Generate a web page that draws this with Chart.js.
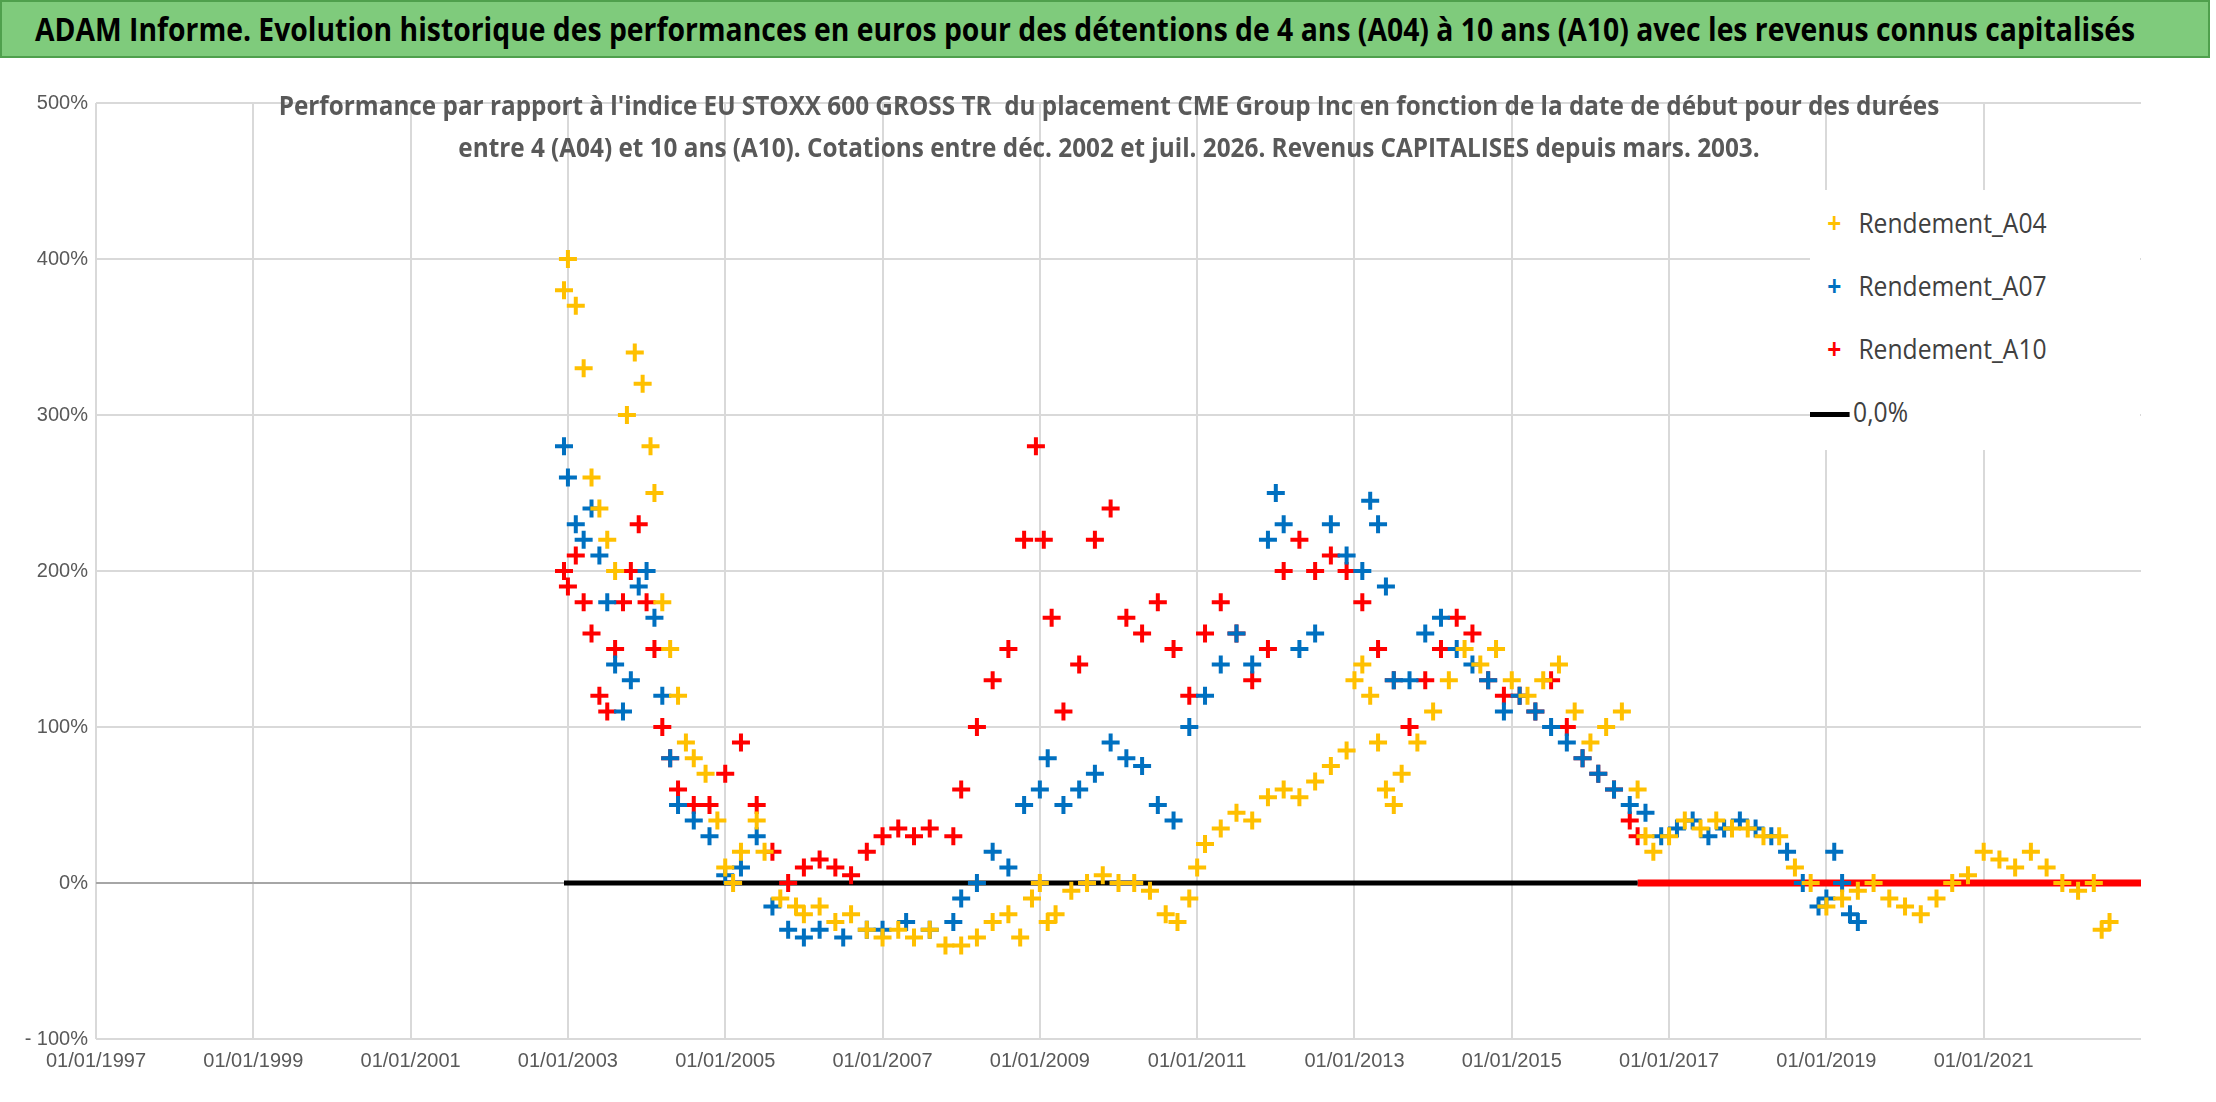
<!DOCTYPE html>
<html><head><meta charset="utf-8">
<script src="https://cdn.jsdelivr.net/npm/chart.js@4.4.0/dist/chart.umd.min.js"></script>
<style>
body{margin:0;background:#fff;font-family:"Open Sans",sans-serif;}
#wrap{position:relative;width:2216px;height:1102px;overflow:hidden;}
#title{position:absolute;left:0;top:0;width:2206px;height:54px;background:#7fcb7c;border:2px solid #4fa04d;
 font:bold 32px "Open Sans",sans-serif;color:#000;line-height:54px;white-space:nowrap;}
#title span{position:absolute;left:1083px;top:0;transform:translateX(-50%) scaleX(0.885);}
#sub{position:absolute;left:0;top:84px;width:2216px;height:90px;font:bold 27px "Open Sans",sans-serif;color:#595959;line-height:42px;white-space:nowrap;}
#sub span{position:absolute;left:1109px;transform:translateX(-50%) scaleX(0.9);}
#leg{position:absolute;left:1810px;top:190px;width:330px;height:260px;background:#fff;font:28px "Open Sans",sans-serif;color:#404040;}
#leg div{position:absolute;left:0;height:40px;line-height:40px;transform:scaleX(0.88);transform-origin:left;white-space:nowrap;}
#leg span{display:inline-block;width:55px;text-align:center;font-weight:bold;}
canvas{position:absolute;left:0;top:0;}
</style></head><body>
<div id="wrap">
<canvas id="chart" width="2216" height="1102"></canvas>
<div id="title"><span>ADAM Informe. Evolution historique des performances en euros pour des détentions de 4 ans (A04) à 10 ans (A10) avec les revenus connus capitalisés</span></div>
<div id="sub"><span style="top:0">Performance par rapport à l'indice EU STOXX 600 GROSS TR&nbsp; du placement CME Group Inc en fonction de la date de début pour des durées</span><span style="top:42px">entre 4 (A04) et 10 ans (A10). Cotations entre déc. 2002 et juil. 2026. Revenus CAPITALISES depuis mars. 2003.</span></div>
<div id="leg">
 <div style="top:12px"><span style="color:#ffc000">+</span>Rendement_A04</div>
 <div style="top:75px"><span style="color:#0070c0">+</span>Rendement_A07</div>
 <div style="top:138px"><span style="color:#ff0000">+</span>Rendement_A10</div>
 <div style="top:201px"><span style="display:inline-block;width:45px;height:5px;background:#000;vertical-align:middle;margin-right:4px"></span>0,0%</div>
</div>
</div>
<script>
// years as decimal, values in %
const a04Years = [2002.95,2003.0,2003.1,2003.2,2003.3,2003.4,2003.5,2003.6,2003.75,2003.85,2003.95,2004.05,2004.1,2004.2,2004.3,2004.4,2004.5,2004.6,2004.75,2004.9,2005.0,2005.1,2005.2,2005.4,2005.5,2005.7,2005.9,2006.0,2006.2,2006.4,2006.6,2006.8,2007.0,2007.2,2007.4,2007.6,2007.8,2008.0,2008.2,2008.4,2008.6,2008.75,2008.9,2009.0,2009.1,2009.2,2009.4,2009.6,2009.8,2010.0,2010.2,2010.4,2010.6,2010.75,2010.9,2011.0,2011.1,2011.3,2011.5,2011.7,2011.9,2012.1,2012.3,2012.5,2012.7,2012.9,2013.0,2013.1,2013.2,2013.3,2013.4,2013.5,2013.6,2013.8,2014.0,2014.2,2014.4,2014.6,2014.8,2015.0,2015.2,2015.4,2015.6,2015.8,2016.0,2016.2,2016.4,2016.6,2016.7,2016.8,2017.0,2017.2,2017.4,2017.6,2017.8,2018.0,2018.2,2018.4,2018.6,2018.8,2019.0,2019.2,2019.4,2019.6,2019.8,2020.0,2020.2,2020.4,2020.6,2020.8,2021.0,2021.2,2021.4,2021.6,2021.8,2022.0,2022.2,2022.4,2022.5,2022.6];
const a04Values = [380,400,370,330,260,240,220,200,300,340,320,280,250,180,150,120,90,80,70,40,10,0,20,40,20,-10,-15,-20,-15,-25,-20,-30,-35,-30,-35,-30,-40,-40,-35,-25,-20,-35,-10,0,-25,-20,-5,0,5,0,0,-5,-20,-25,-10,10,25,35,45,40,55,60,55,65,75,85,130,140,120,90,60,50,70,90,110,130,150,140,150,130,120,130,140,110,90,100,110,60,30,20,30,40,35,40,35,35,30,30,10,0,-15,-10,-5,0,-10,-15,-20,-10,0,5,20,15,10,20,10,0,-5,0,-30,-25];
const a07Years = [2002.95,2003.0,2003.1,2003.2,2003.3,2003.4,2003.5,2003.6,2003.7,2003.8,2003.9,2004.0,2004.1,2004.2,2004.3,2004.4,2004.6,2004.8,2005.0,2005.2,2005.4,2005.6,2005.8,2006.0,2006.2,2006.5,2006.8,2007.0,2007.3,2007.6,2007.9,2008.0,2008.2,2008.4,2008.6,2008.8,2009.0,2009.1,2009.3,2009.5,2009.7,2009.9,2010.1,2010.3,2010.5,2010.7,2010.9,2011.1,2011.3,2011.5,2011.7,2011.9,2012.0,2012.1,2012.3,2012.5,2012.7,2012.9,2013.1,2013.2,2013.3,2013.4,2013.5,2013.7,2013.9,2014.1,2014.3,2014.5,2014.7,2014.9,2015.1,2015.3,2015.5,2015.7,2015.9,2016.1,2016.3,2016.5,2016.7,2016.9,2017.1,2017.3,2017.5,2017.7,2017.9,2018.1,2018.3,2018.5,2018.7,2018.9,2019.0,2019.1,2019.2,2019.3,2019.4];
const a07Values = [280,260,230,220,240,210,180,140,110,130,190,200,170,120,80,50,40,30,5,10,30,-15,-30,-35,-30,-35,-30,-30,-25,-30,-25,-10,0,20,10,50,60,80,50,60,70,90,80,75,50,40,100,120,140,160,140,220,250,230,150,160,230,210,200,245,230,190,130,130,160,170,150,140,130,110,120,110,100,90,80,70,60,50,45,30,35,40,30,35,40,35,30,20,0,-15,-10,20,0,-20,-25];
const a10Years = [2002.95,2003.0,2003.1,2003.2,2003.3,2003.4,2003.5,2003.6,2003.7,2003.8,2003.9,2004.0,2004.1,2004.2,2004.3,2004.4,2004.6,2004.8,2005.0,2005.2,2005.4,2005.6,2005.8,2006.0,2006.2,2006.4,2006.6,2006.8,2007.0,2007.2,2007.4,2007.6,2007.9,2008.0,2008.2,2008.4,2008.6,2008.8,2008.95,2009.05,2009.15,2009.3,2009.5,2009.7,2009.9,2010.1,2010.3,2010.5,2010.7,2010.9,2011.1,2011.3,2011.5,2011.7,2011.9,2012.1,2012.3,2012.5,2012.7,2012.9,2013.1,2013.3,2013.5,2013.7,2013.9,2014.1,2014.3,2014.5,2014.7,2014.9,2015.1,2015.3,2015.5,2015.7,2015.9,2016.1,2016.3,2016.5,2016.6];
const a10Values = [200,190,210,180,160,120,110,150,180,200,230,180,150,100,80,60,50,50,70,90,50,20,0,10,15,10,5,20,30,35,30,35,30,60,100,130,150,220,280,220,170,110,140,220,240,170,160,180,150,120,160,180,160,130,150,200,220,200,210,200,180,150,130,100,130,150,170,160,130,120,120,110,130,100,80,70,60,40,30];
const zeroBlack = [2002.95, 2016.6];
const zeroRed = [2016.6, 2023];
const xTicks = [1997,1999,2001,2003,2005,2007,2009,2011,2013,2015,2017,2019,2021];

const pts = (xs, ys) => xs.map((x, i) => ({x, y: ys[i]}));
const cross = c => ({type: 'scatter', pointStyle: 'cross', pointRadius: 9, borderWidth: 4, borderColor: c, backgroundColor: c, showLine: false});

new Chart(document.getElementById('chart'), {
  type: 'scatter',
  data: {datasets: [
    {...cross('#ffc000'), data: pts(a04Years, a04Values)},
    {...cross('#0070c0'), data: pts(a07Years, a07Values)},
    {...cross('#ff0000'), data: pts(a10Years, a10Values)},
    {type: 'line', data: pts(zeroBlack, [0, 0]), borderColor: '#000', borderWidth: 5, pointRadius: 0},
    {type: 'line', data: pts(zeroRed, [0, 0]), borderColor: '#ff0000', borderWidth: 7, pointRadius: 0}
  ]},
  options: {
    responsive: false, animation: false,
    layout: {padding: {left: 16, right: 75, top: 103, bottom: 0}},
    plugins: {legend: {display: false}, tooltip: {enabled: false}},
    scales: {
      x: {type: 'linear', min: 1997, max: 2023,
        afterBuildTicks: s => { s.ticks = xTicks.map(v => ({value: v})); },
        afterFit: s => { s.height = 63; },
        ticks: {callback: v => '01/01/' + v, color: '#595959', font: {size: 20}, maxRotation: 0, padding: 10},
        grid: {color: '#d9d9d9', lineWidth: 2, drawTicks: false}, border: {display: false}},
      y: {min: -100, max: 500,
        afterFit: s => { s.width = 80; },
        ticks: {stepSize: 100, callback: v => v === -100 ? '- 100%' : v + '%', color: '#595959', font: {size: 20}, padding: 8},
        grid: {color: c => c.tick.value === 0 ? '#a6a6a6' : '#d9d9d9', lineWidth: 2, drawTicks: false}, border: {display: false}}
    }
  }
});
</script>
</body></html>
